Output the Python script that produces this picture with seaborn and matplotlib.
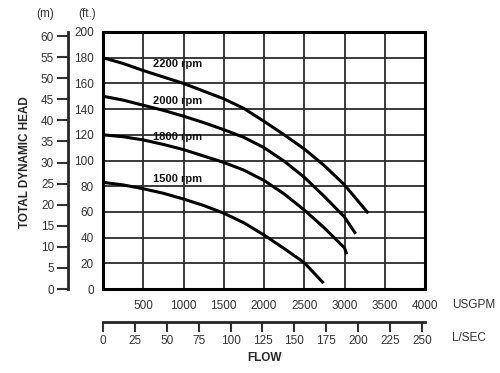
import seaborn as sns
import pandas as pd
import numpy as np
import matplotlib
matplotlib.use("Agg")
import matplotlib.pyplot as plt

sns.set_style("white")
plt.rcParams['font.family'] = ['Liberation Sans', 'DejaVu Sans']

# pump curves (flow in USGPM, head in ft)
rpm_names = ["2200 rpm", "2000 rpm", "1800 rpm", "1500 rpm"]
flow_2200 = [0, 250, 500, 750, 1000, 1250, 1500, 1750, 2000, 2250, 2500, 2750, 3000, 3295]
head_2200 = [180, 175.5, 170, 165, 160, 154, 148, 140.5, 130.5, 120, 109, 96, 81, 59]
flow_2000 = [0, 250, 500, 750, 1000, 1250, 1500, 1750, 2000, 2250, 2500, 2750, 3000, 3138]
head_2000 = [150, 147, 143, 139, 134.5, 129.5, 124, 118, 110, 99.5, 87, 72, 56, 43]
flow_1800 = [0, 250, 500, 750, 1000, 1250, 1500, 1750, 2000, 2250, 2500, 2750, 3000, 3028]
head_1800 = [120, 118.5, 116, 112.5, 108.5, 103.5, 98.5, 92.5, 84.5, 74, 61.5, 47.5, 32, 27]
flow_1500 = [0, 250, 500, 750, 1000, 1250, 1500, 1750, 2000, 2250, 2500, 2740]
head_1500 = [83, 81, 78, 74.5, 70, 65, 59, 51.5, 42, 31.5, 20.5, 4.5]

# label anchor: flow, head
label_flow = [620, 620, 620, 620]
label_head = [175, 146.5, 118.5, 85.5]

gpm_ticks = [0, 500, 1000, 1500, 2000, 2500, 3000, 3500, 4000]
ft_ticks = list(range(0, 201, 20))
m_ticks = list(range(0, 61, 5))
ls_ticks = list(range(0, 251, 25))

frames = []
for name, f, h in zip(rpm_names,
                      [flow_2200, flow_2000, flow_1800, flow_1500],
                      [head_2200, head_2000, head_1800, head_1500]):
    frames.append(pd.DataFrame({"flow": f, "head": h, "rpm": name}))
df = pd.concat(frames, ignore_index=True)

fig = plt.figure(figsize=(5, 3.73), dpi=100)
W, H = 500, 373
ax = fig.add_axes([103 / W, 1 - 289 / H, 322 / W, 257 / H])

sns.lineplot(data=df, x="flow", y="head", hue="rpm", palette=["black"] * 4,
             linewidth=2.2, legend=False, sort=False, estimator=None, ax=ax,
             solid_joinstyle="round", solid_capstyle="butt")

ax.set_xlim(0, 4000)
ax.set_ylim(0, 200)
ax.set_xticks(gpm_ticks)
ax.set_xticklabels([""] + [str(t) for t in gpm_ticks[1:]])
ax.set_yticks(ft_ticks)
ax.grid(True, color="#2b2b2b", linewidth=1.3)
ax.set_axisbelow(True)
for s in ax.spines.values():
    s.set_linewidth(2.2)
    s.set_color("black")
ax.tick_params(axis="x", length=0, pad=8, labelsize=8.5, colors="#333333")
ax.tick_params(axis="y", direction="out", length=6, width=1.3, pad=0.5,
               labelsize=8.5, colors="#333333")
ax.set_xlabel("")
ax.set_ylabel("")

for name, fx, hy in zip(rpm_names, label_flow, label_head):
    ax.text(fx, hy, name, fontsize=8, fontweight="bold", ha="left",
            va="center", color="#111111")

# metres axis
ax_m = ax.secondary_yaxis((68 - 103) / 322,
                          functions=(lambda ft: ft * 0.3048, lambda m: m / 0.3048))
ax_m.set_yticks(m_ticks)
ax_m.spines["left"].set_linewidth(2)
ax_m.tick_params(direction="out", length=8, width=1.5, pad=2, labelsize=8.5,
                 colors="#333333")

# litres per second axis
ax_l = ax.secondary_xaxis((289 - 322) / 257,
                          functions=(lambda g: g * 0.0630902, lambda l: l / 0.0630902))
ax_l.set_xticks(ls_ticks)
ax_l.spines["bottom"].set_linewidth(2)
ax_l.tick_params(direction="out", length=7, width=1.5, pad=2, labelsize=8.5,
                 colors="#333333")

fig.text(45 / W, 1 - 14 / H, "(m)", fontsize=8.5, ha="center", va="center", color="#333333")
fig.text(87 / W, 1 - 14 / H, "(ft.)", fontsize=8.5, ha="center", va="center", color="#333333")
fig.text(25 / W, 1 - 162 / H, "TOTAL DYNAMIC HEAD", rotation=90, fontsize=8.5,
         fontweight="bold", ha="center", va="center")
fig.text(265 / W, 1 - 358 / H, "FLOW", fontsize=8.5, fontweight="bold",
         ha="center", va="center")
fig.text(452 / W, 1 - 305 / H, "USGPM", fontsize=8.5, ha="left", va="center", color="#333333")
fig.text(452 / W, 1 - 338 / H, "L/SEC", fontsize=8.5, ha="left", va="center", color="#333333")

fig.savefig("out.png", dpi=100)
